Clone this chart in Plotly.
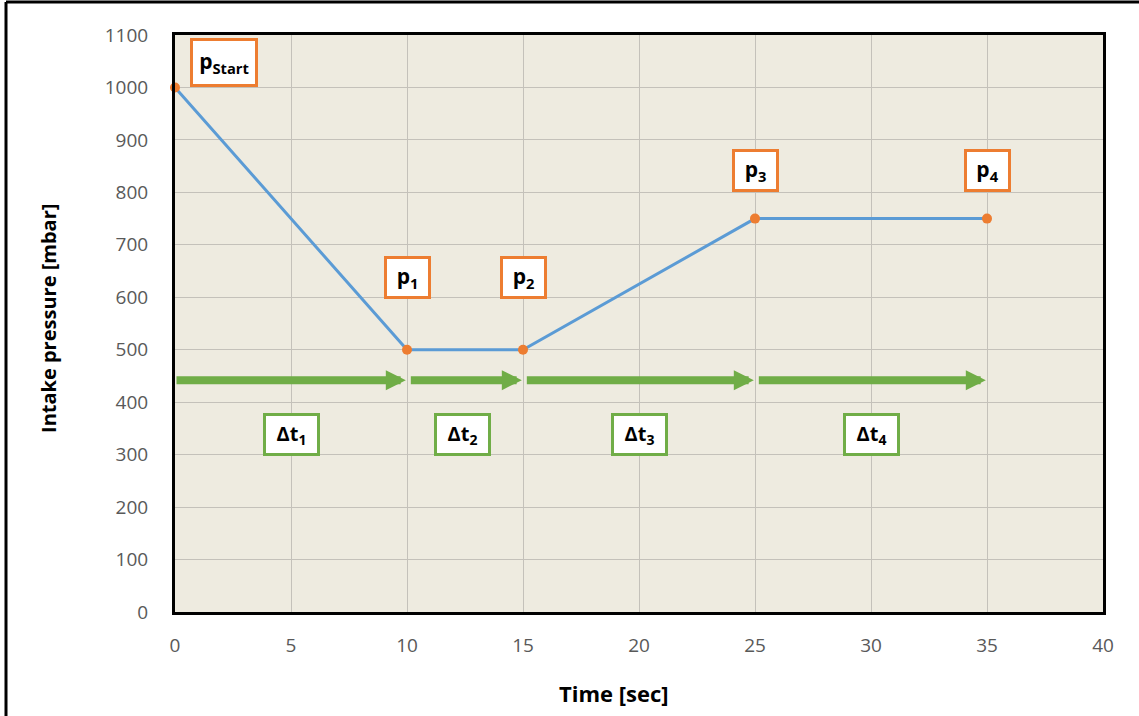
import plotly.graph_objects as go

# Data
time_s = [0, 10, 15, 25, 35]
pressure = [1000, 500, 500, 750, 750]

p_labels = ["p<sub>Start</sub>", "p<sub>1</sub>", "p<sub>2</sub>", "p<sub>3</sub>", "p<sub>4</sub>"]
p_label_x = [2.1, 10, 15, 25, 35]
p_label_y = [1047, 637, 637, 841, 841]

dt_labels = ["Δt<sub>1</sub>", "Δt<sub>2</sub>", "Δt<sub>3</sub>", "Δt<sub>4</sub>"]
dt_label_x = [5, 12.4, 20, 30]
dt_label_y = [339, 339, 339, 339]

arrow_start = [0, 10.1, 15.1, 25.1]
arrow_end = [9.95, 14.95, 24.95, 34.95]
arrow_y = 442

x_ticks = [0, 5, 10, 15, 20, 25, 30, 35, 40]
y_ticks = [0, 100, 200, 300, 400, 500, 600, 700, 800, 900, 1000, 1100]

ORANGE = "#ED7D31"
BLUE = "#5B9BD5"
GREEN = "#70AD47"
FONT = "Open Sans"

fig = go.Figure()
fig.add_trace(go.Scatter(
    x=time_s, y=pressure, mode="lines+markers",
    line=dict(color=BLUE, width=3),
    marker=dict(color=ORANGE, size=10),
    cliponaxis=False, showlegend=False, hoverinfo="skip"))

annotations = []
# green arrows
for xs, xe in zip(arrow_start, arrow_end):
    annotations.append(dict(
        x=xe, y=arrow_y, ax=xs, ay=arrow_y, xref="x", yref="y", axref="x", ayref="y",
        text="", showarrow=True, arrowhead=2, arrowsize=0.5, arrowwidth=8,
        arrowcolor=GREEN, standoff=0, startstandoff=0))

for t, x, y in zip(p_labels, p_label_x, p_label_y):
    w = 62 if "Start" in t else 41
    h = 43 if "Start" in t else 37
    annotations.append(dict(
        x=x, y=y, xref="x", yref="y", text="<b>" + t + "</b>", showarrow=False,
        font=dict(family=FONT, size=21, color="#000000"),
        bgcolor="#FFFFFF", bordercolor=ORANGE, borderwidth=3, borderpad=0,
        width=w, height=h))

for t, x, y in zip(dt_labels, dt_label_x, dt_label_y):
    annotations.append(dict(
        x=x, y=y, xref="x", yref="y", text="<b>" + t + "</b>", showarrow=False,
        font=dict(family=FONT, size=20, color="#000000"),
        bgcolor="#FFFFFF", bordercolor=GREEN, borderwidth=3, borderpad=0,
        width=51, height=37))

# axis titles
annotations.append(dict(
    x=-0.1369, y=0.5095, xref="paper", yref="paper", text="<b>Intake pressure [mbar]</b>",
    textangle=-90, showarrow=False, font=dict(family=FONT, size=20, color="#000000"),
    xanchor="center", yanchor="middle"))
annotations.append(dict(
    x=0.473, y=-0.1404, xref="paper", yref="paper", text="<b>Time [sec]</b>",
    showarrow=False, font=dict(family=FONT, size=22, color="#000000"),
    xanchor="center", yanchor="middle"))

W, H = 1139, 716
L, R, T, B = 175, 36, 35, 104
pw, ph = W - L - R, H - T - B

shapes = [
    # outer image frame (top and left edges)
    dict(type="line", xref="paper", yref="paper",
         x0=(6 - L) / pw, x1=(W - L) / pw, y0=1 + (T - 2) / ph, y1=1 + (T - 2) / ph,
         line=dict(color="#000000", width=3)),
    dict(type="line", xref="paper", yref="paper",
         x0=(6 - L) / pw, x1=(6 - L) / pw, y0=1 + (T - 2) / ph, y1=-B / ph,
         line=dict(color="#000000", width=3)),
]

fig.update_layout(
    width=W, height=H,
    margin=dict(l=L, r=R, t=T, b=B, autoexpand=False),
    paper_bgcolor="#FFFFFF", plot_bgcolor="#EEEBE0",
    font=dict(family=FONT, size=19, color="#595959"),
    showlegend=False,
    annotations=annotations, shapes=shapes,
    xaxis=dict(range=[0, 40], tickvals=x_ticks, ticktext=[str(v) for v in x_ticks],
               showgrid=True, gridcolor="#C4C1BA", gridwidth=1, zeroline=False,
               showline=True, linecolor="#000000", linewidth=3, mirror=True,
               ticks="", ticklabelstandoff=14, tickfont=dict(size=19, color="#595959")),
    yaxis=dict(range=[0, 1100], tickvals=y_ticks, ticktext=[str(v) for v in y_ticks],
               showgrid=True, gridcolor="#C4C1BA", gridwidth=1, zeroline=False,
               showline=True, linecolor="#000000", linewidth=3, mirror=True,
               ticks="", ticklabelstandoff=20, tickfont=dict(size=19, color="#595959")),
)

fig.write_html("out.html", config={"displayModeBar": False},
               post_script="document.body.style.margin='0';document.body.style.overflow='hidden';")
